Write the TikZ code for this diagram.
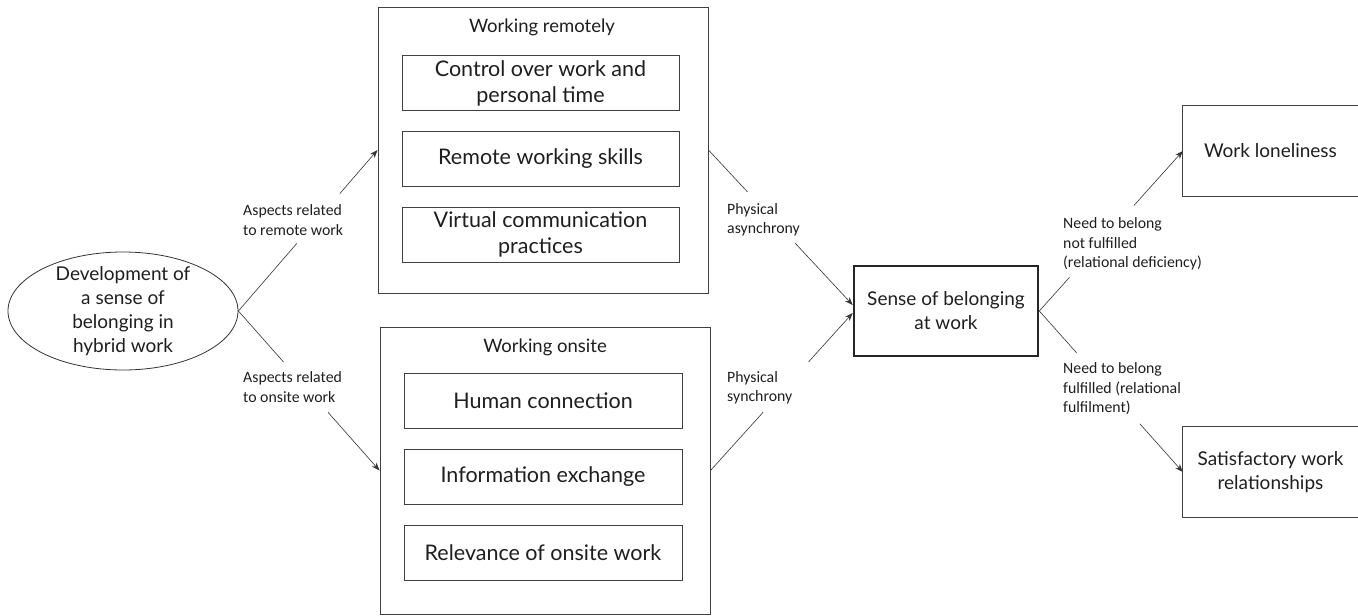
\documentclass[tikz,border=0pt]{standalone}
\usepackage{fontspec}
\setmainfont{Lato}
\newfontfamily\labfont{Carlito}
\usetikzlibrary{arrows.meta,calc,shapes.geometric}
\begin{document}
\begin{tikzpicture}[x=1pt,y=-1pt,
  every node/.style={text=black!88},
  bt/.style={font=\fontsize{19}{24}\selectfont, align=center, inner sep=0pt},
  tt/.style={font=\fontsize{18.5}{22}\selectfont, inner sep=0pt},
  lab/.style={font=\labfont\fontsize{15.8}{19.5}\selectfont, align=left, inner sep=0pt, anchor=west},
  outer/.style={draw=black!75, line width=1pt, minimum width=330pt, inner sep=0pt},
  inner/.style={draw=black!75, line width=1pt, minimum width=277pt, minimum height=55pt, inner sep=0pt, font=\fontsize{21.5}{26}\selectfont, align=center},
  conn/.style={draw=black!80, line width=0.6pt},
  arr/.style={conn, -{Stealth[length=8pt,width=6pt]}}
]
\useasboundingbox (0,0) rectangle (1358,616);
\fill[white] (0,0) rectangle (1358,616);

% ellipse
\node[ellipse, draw=black!80, line width=0.8pt, minimum width=230pt, minimum height=118pt, inner sep=0pt] (ell) at (123,311) {};
\node[bt] (elltext) at (123,311) {Development of\\a sense of\\belonging in\\hybrid work};

% remote group
\node[outer, minimum height=286pt] (rem) at (543,150) {};
\node[tt] (remt) at (542,27) {Working remotely};
\node[inner] (r1) at (540.5,83) {Control over work and\\personal time};
\node[inner] (r2) at (540.5,158.5) {Remote working skills};
\node[inner] (r3) at (540.5,234.5) {Virtual communication\\practices};

% onsite group
\node[outer, minimum height=287pt] (ons) at (545,470.5) {};
\node[tt] (onst) at (545,347) {Working onsite};
\node[inner, minimum width=278pt] (o1) at (543,400.5) {Human connection};
\node[inner, minimum width=278pt] (o2) at (543,476.5) {Information exchange};
\node[inner, minimum width=278pt] (o3) at (543,552.5) {Relevance of onsite work};

% sense of belonging
\node[draw=black!85, line width=2.6pt, minimum width=184pt, minimum height=90pt, inner sep=0pt, bt] (sense) at (946,311) {Sense of belonging\\at work};

% outcomes (cut at the right edge)
\node[minimum width=175pt, minimum height=90pt, inner sep=0pt, bt] (wl) at (1270.5,151) {Work loneliness};
\node[minimum width=175pt, minimum height=90pt, inner sep=0pt, bt] (sw) at (1270.5,472) {Satisfactory work\\relationships};
\draw[draw=black!75, line width=1pt] (wl.north east) -- (wl.north west) -- (wl.south west) -- (wl.south east);
\draw[draw=black!75, line width=1pt] (sw.north east) -- (sw.north west) -- (sw.south west) -- (sw.south east);

% labels
\node[lab] (l1) at (243,220) {Aspects related\\to remote work};
\node[lab] (l2) at (243,387) {Aspects related\\to onsite work};
\node[lab] (l3) at (727,220) {Physical\\asynchrony};
\node[lab] (l4) at (727,388) {Physical\\synchrony};
\node[lab] (l5) at (1063,244) {Need to belong\\not fulfilled\\(relational deficiency)};
\node[lab] (l6) at (1063,389) {Need to belong\\fulfilled (relational\\fulfilment)};

% connectors
\coordinate (sa) at ([yshift=6pt]sense.west);
\coordinate (sb) at ([yshift=-2pt]sense.west);

\draw[conn] (ell.east) -- ($(ell.east)!0.42!(rem.west)$);
\draw[arr] ($(ell.east)!0.73!(rem.west)$) -- (rem.west);

\draw[conn] (ell.east) -- ($(ell.east)!0.32!(ons.west)$);
\draw[arr] ($(ell.east)!0.635!(ons.west)$) -- (ons.west);

\draw[conn] (rem.east) -- ($(rem.east)!0.27!(sa)$);
\draw[arr] ($(rem.east)!0.6!(sa)$) -- (sa);

\draw[conn] (ons.east) -- ($(ons.east)!0.37!(sb)$);
\draw[arr] ($(ons.east)!0.69!(sb)$) -- (sb);

\draw[conn] (sense.east) -- ($(sense.east)!0.21!(wl.west)$);
\draw[arr] ($(sense.east)!0.66!(wl.west)$) -- (wl.west);

\draw[conn] (sense.east) -- ($(sense.east)!0.26!(sw.west)$);
\draw[arr] ($(sense.east)!0.7!(sw.west)$) -- (sw.west);
\end{tikzpicture}
\end{document}
